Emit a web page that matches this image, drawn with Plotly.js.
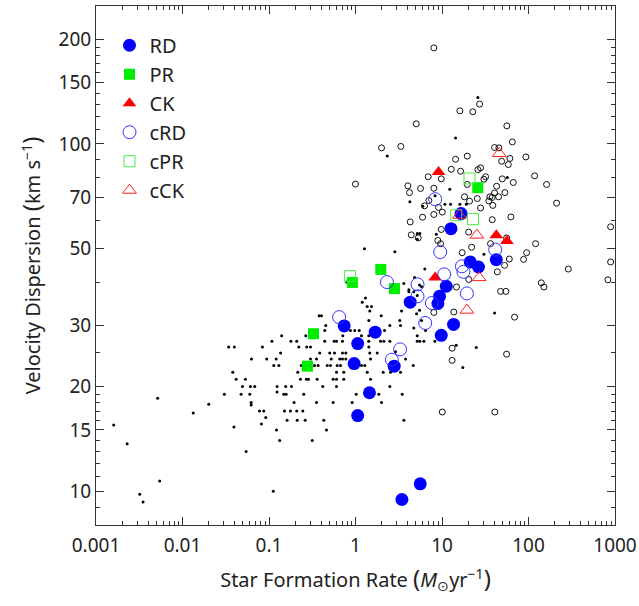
<!DOCTYPE html>
<html><head><meta charset="utf-8">
<script src="https://cdn.plot.ly/plotly-3.0.1.min.js"></script>
<style>html,body{margin:0;padding:0;background:#fff}#chart{width:639px;height:606px}</style>
</head><body><div id="chart"></div>
<script>
// ---- comparison sample: small dots (SFR, sigma) ----
const dotSFR = [0.0016,0.00229,0.0032,0.0035,0.00516,0.00545,0.0133,0.0201,0.0393,0.0544,0.0818,0.122,0.133,0.112,0.316,0.462,
 0.380,0.404,0.453,0.441,0.140,0.108,0.179,0.209,0.266,0.441,0.0342,0.0398,0.084,0.221,0.273,0.302,0.136,0.386,0.504,0.0627,0.0942,0.121,0.302,0.354,
 0.1135,0.130,0.2355,0.336,0.370,0.471,0.514,0.0381,0.215,0.0417,0.0534,0.231,0.271,0.286,0.3605,0.0493,0.061,0.0684,0.124,0.156,0.182,0.418,
 0.124,0.148,0.158,0.252,0.0305,0.0476,0.0599,0.0622,0.0622,0.195,0.354,0.0776,0.087,0.151,0.177,0.209,0.246,0.0917,0.162,0.212,0.262,0.43,
 0.787,1.305,1.195,1.365,1.531,1.463,1.983,3.405,3.253,5.08,1.425,2.494,3.315,4.72,0.875,0.98,1.104,0.713,1.173,1.425,2.165,0.567,0.603,0.707,
 1.425,1.946,2.125,2.494,5.17,0.572,0.707,0.773,1.463,1.782,2.90,0.524,0.658,0.707,0.773,1.491,1.425,3.79,0.614,0.671,1.173,1.281,4.65,
 0.603,0.732,1.365,2.09,2.54,3.315,0.552,0.603,0.732,1.491,0.603,2.494,1.019,1.86,3.47,0.552,0.916,2.0,3.62,
 6.33,4.81,3.62,5.5,5.8,4.14,4.14,4.72,5.17,4.65,5.5,5.8,6.45,5.17,5.54,6.17,8.27,14.6,24.9,17.4,40.5,30.5,
 26.0,14.35,2.33,12.3,8.31,4.25,6.0,10.8,12.56,16.1,19.1,5.17,5.54,5.17,8.58,1.27,2.85,56.8];
const dotSigma = [15.5,13.7,9.8,9.3,18.5,10.7,16.8,17.8,15.3,13,15.6,15,14,10,14,15,
 32,32,30,29,28,27,27,27,28,27,26,26,26,26,26,26,25,25,25,24,24,24,24,24,
 23,23,23,23,23,23,23,22,22,21,21,21,21,21,21,20,20,20,20,20,20,20,
 19.3,19,19,19,19,19,19,18,17.7,18,18,17,17,17,17,17,17,16.3,16,16,16,16,
 40,36,35,34,34,33,32,33,31,32.4,31,30,30,29.5,29,29,29,28,28,28,29,27,27,27,
 27,27,27,27,27,25,25,25,25,25,25.2,24,24,24,24,24,26,24,23,23,23,23,23,
 22,22,22,22,22,22,21,21,21,21,20,20,19,19,19,18,18,18,16,
 43.6,41.2,39.6,39.2,38.8,38,37.5,37.5,36.6,35.6,33.2,31,29,28,27,27,27,26.3,25.9,22.7,32.6,48.1,
 136,104,92.2,74,70.9,68.1,66.1,67,67,67,67,55.2,55.2,53.1,54.9,49.9,48.9,80];

// ---- comparison sample: open black circles ----
const openSFR = [8.05,16.1,5.04,2.0,3.34,14.35,19.6,1.0,6.93,9.8,12.8,16.4,4.03,4.21,5.65,8.05,7.05,6.28,9.12,10.07,8.05,5.96,4.29,4.41,5.31,9.8,8.95,9.62,
 18.2,19.6,20.8,17.1,22.0,20.3,14.7,20.4,27.2,22.7,56.2,65.0,40.5,45.5,48.9,60.9,58.4,93.3,26.0,27.9,31.9,30.5,49.8,66.7,117.7,161.9,
 42.8,40.5,53.3,45.1,35.8,38.1,34.8,38.7,27.9,25.6,211,38.1,62.6,55.8,36.4,120.8,95.1,87.8,60.0,52.9,43.6,288.6,890,890,828,140.6,150.7,47.6,54.8,
 8.05,13.7,69.0,13.1,13.1,55.8,10.07,40.8];
const openSigma = [189,124.5,114.2,97.4,98.3,90.3,92.2,76.6,80.4,79.3,84.5,83.4,75.7,72.4,74.4,74.5,68.7,66.3,65.6,63.6,62.6,61.5,59.6,54.7,53.6,56.7,52.7,51.6,
 70.4,76.4,68.4,48.6,50.4,55.7,38.7,40.7,130.2,123.7,112.7,101.3,97.6,97.4,89.1,90.8,87.2,91.7,84.3,85.3,80.4,79.1,79.3,77.4,80.9,76.4,
 75.5,72.2,72.4,70.4,70.4,70.1,68.5,66.5,65.4,69.6,67.5,60.5,61.6,53.6,51.6,51.6,48.6,46.5,46.6,44.7,42.8,43.6,57.7,45.7,40.6,39.8,38.7,37.6,37.6,
 32.7,32.8,31.7,25.8,23.8,24.8,16.9,16.9];

// ---- sample galaxies ----
const rdSFR = [16.6,12.7,21.2,26.4,42.4,11.2,9.36,8.97,4.29,13.6,9.8,0.74,1.69,1.06,0.964,2.8,1.45,1.06,3.44,5.6];
const rdSigma = [63,57,45.7,44.2,46.4,38.9,36.4,34.7,35.0,30.2,28.1,29.9,28.7,26.6,23.3,22.9,19.2,16.5,9.46,10.5];
const prSFR = [1.96,0.92,2.82,0.327,0.278,25.9];
const prSigma = [43.5,39.9,38.3,28.4,22.9,74.8];
const ckSFR = [9.12,42.4,56.3,8.34];
const ckSigma = [83,54.6,52.5,41.2];
const crdSFR = [8.34,9.53,41.2,17.0,17.7,10.6,19.4,2.31,5.21,5.21,7.64,6.4,3.28,2.63,0.647];
const crdSigma = [69.3,48.8,49.6,44.4,42.8,42.1,37.1,40.0,39.4,36.4,34.8,30.5,25.6,23.9,31.7];
const cprSFR = [0.867,20.8,14.6,22.8];
const cprSigma = [41.6,79.5,62.3,60.7];
const cckSFR = [45.9,25.3,26.9,15.9,19.4];
const cckSigma = [93.8,54.6,41.2,62.3,33.2];

// ---- ticks ----
const xTickVals = [0.001,0.01,0.1,1,10,100,1000];
const xTickText = ['0.001','0.01','0.1','1','10','100','1000'];
const yTickVals = [10,15,20,30,50,70,100,150,200];
const yTickText = ['10','15','20','30','50','70','100','150','200'];
const yMinorVals = [9,11,12,13,14,16,17,18,19,25,40,60,80,90,110,120,130,140,160,170,180,190];
const xMinorVals = [];
[0.001,0.01,0.1,1,10,100].forEach(d=>{for(let k=2;k<=9;k++) xMinorVals.push(d*k);});

const FONT = 'Noto Sans, Open Sans, sans-serif';
const P = s => '<span style="font-size:24px">'+s+'</span>';
const traces = [
 {x:dotSFR,y:dotSigma,mode:'markers',type:'scatter',showlegend:false,hoverinfo:'skip',
  marker:{symbol:'circle',size:3,color:'#000'}},
 {x:openSFR,y:openSigma,mode:'markers',type:'scatter',showlegend:false,hoverinfo:'skip',
  marker:{symbol:'circle-open',size:6,color:'#111',line:{width:1,color:'#111'}}},
 {x:rdSFR,y:rdSigma,name:'RD',mode:'markers',type:'scatter',legendgroup:'a',
  marker:{symbol:'circle',size:13,color:'#0000ff'}},
 {x:prSFR,y:prSigma,name:'PR',mode:'markers',type:'scatter',legendgroup:'b',
  marker:{symbol:'square',size:11,color:'#00ee00'}},
 {x:ckSFR,y:ckSigma,name:'CK',mode:'markers',type:'scatter',legendgroup:'c',
  marker:{symbol:'triangle-up',size:12,color:'#ff0000'}},
 {x:crdSFR,y:crdSigma,name:'cRD',mode:'markers',type:'scatter',legendgroup:'d',
  marker:{symbol:'circle-open',size:13,color:'#3333ff',line:{width:1,color:'#3333ff'}}},
 {x:cprSFR,y:cprSigma,name:'cPR',mode:'markers',type:'scatter',legendgroup:'e',
  marker:{symbol:'square-open',size:11,color:'#44ee44',line:{width:1,color:'#44ee44'}}},
 {x:cckSFR,y:cckSigma,name:'cCK',mode:'markers',type:'scatter',legendgroup:'f',
  marker:{symbol:'triangle-up-open',size:12,color:'#ff2222',line:{width:1,color:'#ff2222'}}}
];

const axCommon = {type:'log',showgrid:false,zeroline:false,showline:true,linecolor:'#333',linewidth:1,
  mirror:'ticks',ticks:'inside',ticklen:8,tickwidth:1,tickcolor:'#333',
  tickfont:{family:FONT,size:19,color:'#222'}};

const layout = {
 width:639,height:606,paper_bgcolor:'#fff',plot_bgcolor:'#fff',
 margin:{l:96,r:24,t:6,b:81},
 font:{family:FONT,color:'#222'},
 xaxis:Object.assign({},axCommon,{range:[-3,3],tickmode:'array',tickvals:xTickVals,ticktext:xTickText,
   ticklabelstandoff:3,
   minor:{tickmode:'array',tickvals:xMinorVals,ticks:'inside',ticklen:4,tickcolor:'#333'},
   title:{text:'Star Formation Rate '+P('(')+'<i>M</i><sub>⊙</sub>yr<sup>−1</sup>'+P(')'),font:{family:FONT,size:20,color:'#222'},standoff:16}}),
 yaxis:Object.assign({},axCommon,{range:[0.9025,2.397],tickmode:'array',tickvals:yTickVals,ticktext:yTickText,
   minor:{tickmode:'array',tickvals:yMinorVals,ticks:'inside',ticklen:4,tickcolor:'#333'},
   title:{text:'Velocity Dispersion '+P('(')+'km s<sup>−1</sup>'+P(')'),font:{family:FONT,size:20,color:'#222'},standoff:12}}),
 legend:{x:0.026,y:0.962,xanchor:'left',yanchor:'top',bgcolor:'rgba(0,0,0,0)',borderwidth:0,
   font:{family:FONT,size:20,color:'#222'},tracegroupgap:3,traceorder:'normal'},
 showlegend:true
};
Plotly.newPlot('chart',traces,layout,{displayModeBar:false,staticPlot:true});
</script></body></html>
